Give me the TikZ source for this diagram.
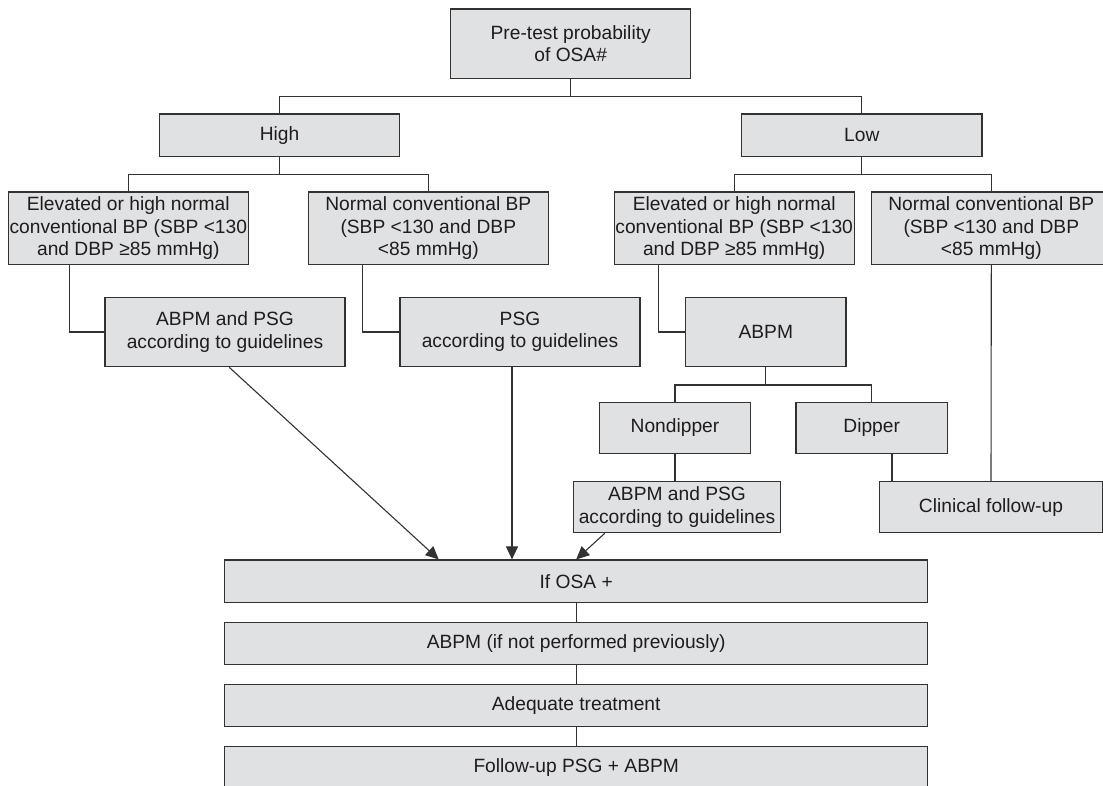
\documentclass[tikz,border=0pt]{standalone}
\usepackage{fontspec}
\setmainfont{Liberation Sans}
\usetikzlibrary{calc,arrows.meta}
\definecolor{boxgray}{RGB}{224,225,227}
\definecolor{linegray}{RGB}{50,50,50}
\definecolor{textgray}{RGB}{30,28,29}

\begin{document}
\begin{tikzpicture}[x=1pt,y=-1pt,
	box/.style={draw=linegray, fill=boxgray, line width=1.3pt, inner sep=0pt, align=center, text=textgray, font=\fontsize{19.2}{22.5}\selectfont},
	link/.style={draw=linegray, line width=1.1pt},
	arr/.style={link, -{Triangle[length=13pt,width=12pt]}}]
			%%%%% START %%%%%
			
			\useasboundingbox (0,0) rectangle (1103,785);
			\clip (0,0) rectangle (1103,785);
			
			\node[box, minimum width=240, minimum height=69.7] (pretest) at (570.7,43.8) {Pre-test probability\\of OSA\#};
			
			\node[box, minimum width=240.4, minimum height=42.7] (high) at (279.5,135.3) {High};
			\node[box, minimum width=240.4, minimum height=42.7] (low) at (861.8,135.3) {Low};
			
			\node[box, minimum width=240, minimum height=72.3] (elevH) at (128.3,228.2) {Elevated or high normal\\conventional BP (SBP <130\\and DBP ≥85 mmHg)};
			\node[box, minimum width=240, minimum height=72.3] (normH) at (428.3,228.2) {Normal conventional BP\\(SBP <130 and DBP\\<85 mmHg)};
			\node[box, minimum width=240, minimum height=72.3] (elevL) at (734.2,228.2) {Elevated or high normal\\conventional BP (SBP <130\\and DBP ≥85 mmHg)};
			\node[box, minimum width=240, minimum height=72.3] (normL) at (991.3,228.2) {Normal conventional BP\\(SBP <130 and DBP\\<85 mmHg)};
			
			\node[box, minimum width=240, minimum height=69.4] (apH) at (225,332) {ABPM and PSG\\according to guidelines};
			\node[box, minimum width=240, minimum height=69.4] (psgH) at (520,332) {PSG\\according to guidelines};
			\node[box, minimum width=160.3, minimum height=69.4] (abpmL) at (765.8,332) {ABPM};
			
			\node[box, minimum width=151, minimum height=51] (nondip) at (675,427.8) {Nondipper};
			\node[box, minimum width=151.3, minimum height=51] (dipper) at (871.7,427.8) {Dipper};
			
			\node[box, minimum width=207.4, minimum height=51.2] (apL) at (677,507.1) {ABPM and PSG\\according to guidelines};
			\node[box, minimum width=222.6, minimum height=51.2] (clin) at (991,507.1) {Clinical follow-up};
			
			\node[box, minimum width=703, minimum height=42.3] (osa) at (576.2,581.2) {If OSA +};
			\node[box, minimum width=703, minimum height=42.3] (abpmN) at (576.2,643.3) {ABPM (if not performed previously)};
			\node[box, minimum width=703, minimum height=42.3] (treat) at (576.2,705.5) {Adequate treatment};
			\node[box, minimum width=703, minimum height=42.3] (follow) at (576.2,767.3) {Follow-up PSG + ABPM};
			
			% tree lines
			\coordinate (top) at (570.7,96.3);
			\draw[link] (pretest.south) -- (top);
			\draw[link] (high.north) |- (top) -| (low.north);
			
			\coordinate (hi) at (279.5,174.3);
			\draw[link] (high.south) -- (hi);
			\draw[link] (elevH.north) |- (hi) -| (normH.north);
			
			\coordinate (lo) at (861.8,174.3);
			\draw[link] (low.south) -- (lo);
			\draw[link] (elevL.north) |- (lo) -| (normL.north);
			
			\draw[link] (apH.west) -| ($(elevH.south)+(-58.6,0)$);
			\draw[link] (psgH.west) -| ($(normH.south)+(-65.6,0)$);
			\draw[link] (abpmL.west) -| ($(elevL.south)+(-75.9,0)$);
			\draw[link] (normL.south) -- (clin.north);
			
			\coordinate (ab) at (765.8,385);
			\draw[link] (abpmL.south) -- (ab);
			\draw[link] (nondip.north) |- (ab) -| (dipper.north);
			\draw[link] (nondip.south) -- (nondip.south |- apL.north);
			\coordinate (dd) at ($(dipper.south)+(20.3,0)$);
			\draw[link] (dd) -- (dd |- clin.north);
			
			% arrows into If OSA +
			\draw[arr] ($(apH.south)+(4.3,0)$) -- ($(osa.north)+(-137.5,0)$);
			\draw[arr] ($(psgH.south)+(-8,0)$) -- ($(osa.north)+(-64.2,0)$);
			\draw[arr] ($(apL.south)+(-72.3,0)$) -- (osa.north);
			
			\draw[link] (osa) -- (abpmN);
			\draw[link] (abpmN) -- (treat);
			\draw[link] (treat) -- (follow);
			
			%%%%% END %%%%%
\end{tikzpicture}
\end{document}
